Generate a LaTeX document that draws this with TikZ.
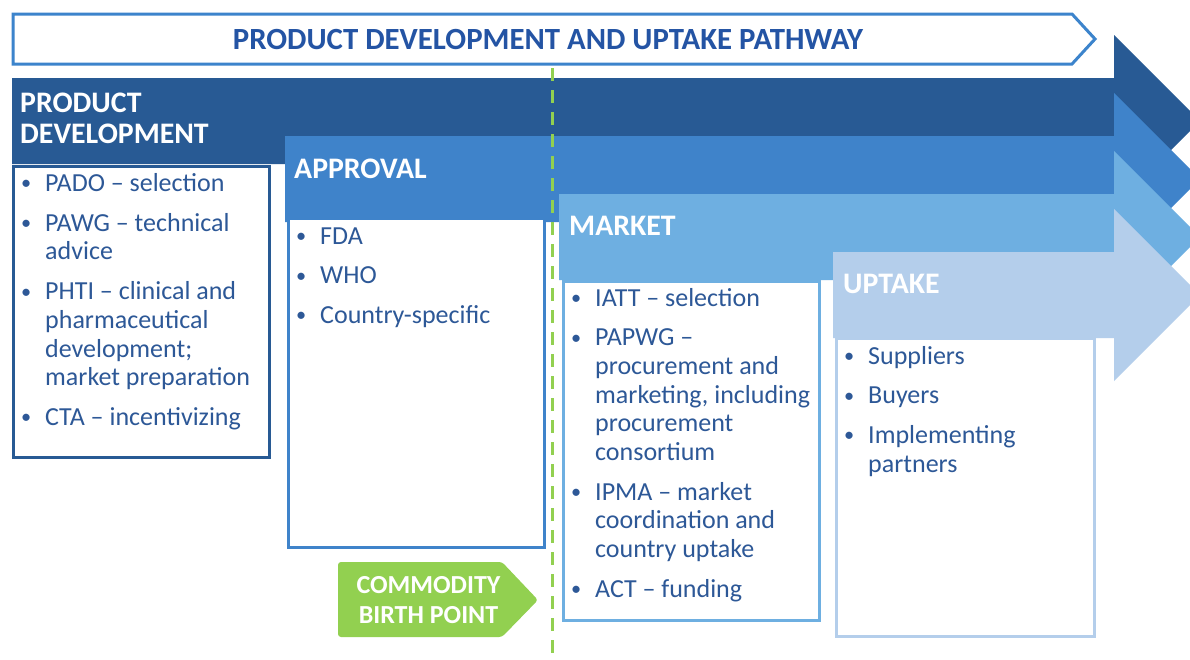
\documentclass[tikz,border=0pt]{standalone}
\usepackage{fontspec}
\setmainfont{Carlito}
\definecolor{cdark}{HTML}{285A94}
\definecolor{cmed}{HTML}{3F83CA}
\definecolor{clight}{HTML}{6EAFE1}
\definecolor{cpale}{HTML}{B4CEEB}
\definecolor{cgreen}{HTML}{92D050}
\definecolor{ctext}{HTML}{2D5897}
\definecolor{ctitle}{HTML}{2454A4}
\definecolor{cbanner}{HTML}{3C84CC}
\tikzset{
  hdr/.style={inner sep=0pt, anchor=base west, text=white, font=\fontsize{29.8}{31.5}\selectfont\bfseries},
  lst/.style={inner sep=0pt, anchor=base west, text=ctext, font=\fontsize{26}{28.7}\selectfont},
  listbox/.style={fill=white, line width=3pt},
}
\newcommand\bitem[1]{\hbox{\makebox[25pt][l]{\hspace{1pt}\raisebox{1.6pt}{\scalebox{0.78}{\textbullet}}}#1}}
\newcommand\citem[1]{\hbox{\hspace{25pt}#1}}
\newcommand\igap{\vskip 11pt}
\newcommand\stagearrow[3]{%
  \fill[#1] (#2,{#3-43}) -- (1114,{#3-43}) -- (1114,{#3-86}) -- (1200,#3)
    -- (1114,{#3+86}) -- (1114,{#3+43}) -- (#2,{#3+43}) -- cycle;}
\begin{document}
\begin{tikzpicture}[x=1pt,y=-1pt]
\clip (0,0) rectangle (1190,659);
\fill[white] (0,0) rectangle (1190,659);
% title banner
\draw[cbanner, line width=3pt, line join=miter] (13,14) -- (1072,14) -- (1095,39) -- (1072,64) -- (13,64) -- cycle;
\node[inner sep=0pt, anchor=base, text=ctitle, font=\fontsize{30.8}{32}\selectfont\bfseries] (title) at (548,49.5) {PRODUCT DEVELOPMENT AND UPTAKE PATHWAY};
% stage arrows
\stagearrow{cdark}{12}{121}
\stagearrow{cmed}{285}{179}
\stagearrow{clight}{559}{237}
\stagearrow{cpale}{833}{295}
% list boxes
\draw[listbox, draw=cdark] (13.5,166) rectangle (269.5,457);
\draw[listbox, draw=cmed] (288,218) rectangle (544.5,547);
\draw[listbox, draw=clight] (563,281) rectangle (819.5,620);
\draw[listbox, draw=cpale] (836.5,338.5) rectangle (1094,636.5);
% headers
\node[hdr] (hpd) at (20,112) {\vtop{\hbox{PRODUCT}\hbox{DEVELOPMENT}}};
\node[hdr] (hap) at (294,178) {APPROVAL};
\node[hdr] (hmk) at (569,235) {MARKET};
\node[hdr] (hup) at (843,293.3) {UPTAKE};
% lists
\node[lst] (lpd) at (20,191.5) {\vtop{%
  \bitem{PADO – selection}\igap
  \bitem{PAWG – technical}\citem{advice}\igap
  \bitem{PHTI – clinical and}\citem{pharmaceutical}\citem{development;}\citem{market preparation}\igap
  \bitem{CTA – incentivizing}}};
\node[lst] (lap) at (295,244) {\vtop{%
  \bitem{FDA}\igap
  \bitem{WHO}\igap
  \bitem{Country-specific}}};
\node[lst] (lmk) at (570,306) {\vtop{%
  \bitem{IATT – selection}\igap
  \bitem{PAPWG –}\citem{procurement and}\citem{marketing, including}\citem{procurement}\citem{consortium}\igap
  \bitem{IPMA – market}\citem{coordination and}\citem{country uptake}\igap
  \bitem{ACT – funding}}};
\node[lst] (lup) at (843,364) {\vtop{%
  \bitem{Suppliers}\igap
  \bitem{Buyers}\igap
  \bitem{Implementing}\citem{partners}}};
% commodity birth point
\fill[cgreen, rounded corners=3pt] (338,562) -- (502,562) -- (538,600) -- (502,637) -- (338,637) -- cycle;
\node[inner sep=0pt, anchor=base, text=white, font=\fontsize{26}{30}\selectfont\bfseries] (cbp) at (428.5,593.3)
  {\vtop{\hbox to 0pt{\hss COMMODITY\hss}\hbox to 0pt{\hss BIRTH POINT\hss}}};
% birth line
\coordinate (btop) at (552,68);
\coordinate (bbot) at (552,659);
\draw[cgreen, line width=3pt, dash pattern=on 13pt off 9pt] (btop) -- (bbot);
\end{tikzpicture}
\end{document}
